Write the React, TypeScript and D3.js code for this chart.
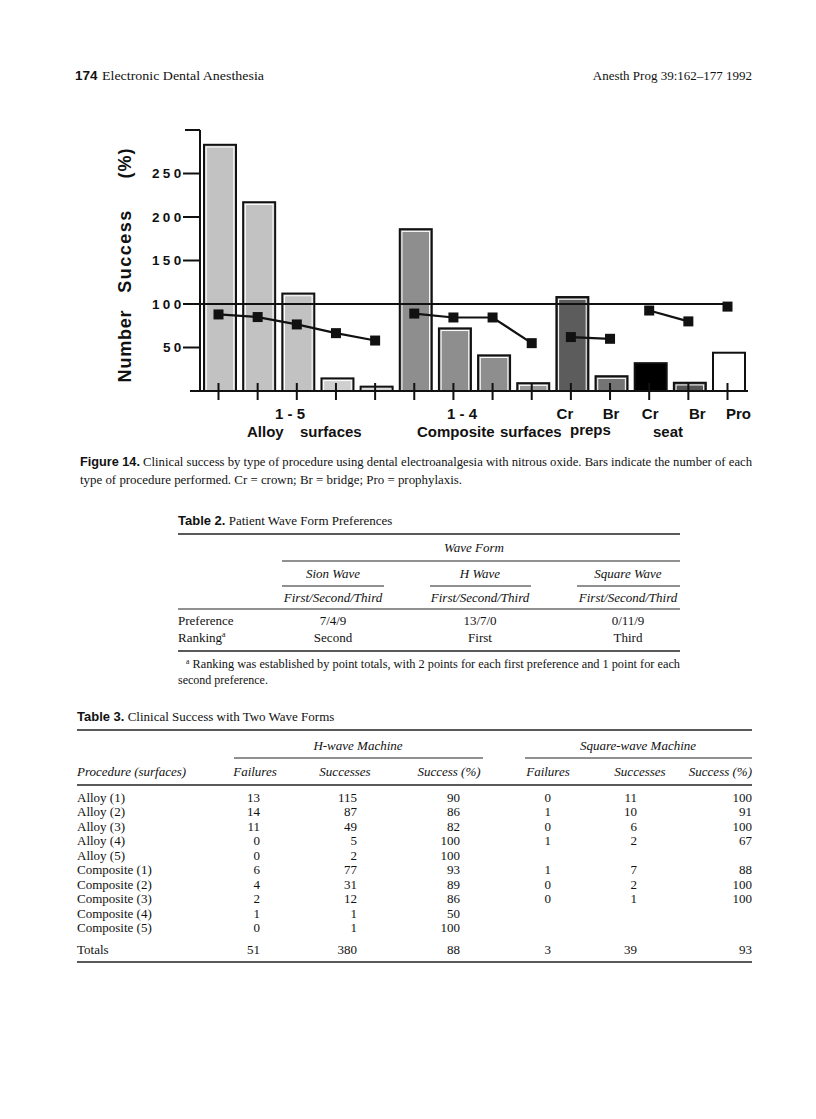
import React from 'react';
import * as d3 from 'd3';

// ---------- Chart data (Figure 14) ----------
const categories = [
  'Alloy 1', 'Alloy 2', 'Alloy 3', 'Alloy 4', 'Alloy 5',
  'Composite 1', 'Composite 2', 'Composite 3', 'Composite 4',
  'Cr preps', 'Br preps', 'Cr seat', 'Br seat', 'Pro',
];
const procedureCounts = [283, 217, 112, 14.5, 5, 186, 72, 41, 9, 108, 17, 32, 9.5, 44];
const successPercent = [88, 85, 76.5, 66.5, 58, 89, 84.5, 84.5, 55, 62, 60, 92.5, 80, 97];
const lineGroups = [[0, 1, 2, 3, 4], [5, 6, 7, 8], [9, 10], [11, 12], [13]];
const yTicks = [50, 100, 150, 200, 250];
const yAxisMax = 300;
const referenceLevel = 100;

// ---------- Table 2 data ----------
const waveForms = ['Sion Wave', 'H Wave', 'Square Wave'];
const preferenceCounts = ['7/4/9', '13/7/0', '0/11/9'];
const rankings = ['Second', 'First', 'Third'];

// ---------- Table 3 data ----------
const procedures = [
  'Alloy (1)', 'Alloy (2)', 'Alloy (3)', 'Alloy (4)', 'Alloy (5)',
  'Composite (1)', 'Composite (2)', 'Composite (3)', 'Composite (4)', 'Composite (5)',
];
const hFailures = [13, 14, 11, 0, 0, 6, 4, 2, 1, 0];
const hSuccesses = [115, 87, 49, 5, 2, 77, 31, 12, 1, 1];
const hSuccessPct = [90, 86, 82, 100, 100, 93, 89, 86, 50, 100];
const sqFailures = [0, 1, 0, 1, null, 1, 0, 0, null, null];
const sqSuccesses = [11, 10, 6, 2, null, 7, 2, 1, null, null];
const sqSuccessPct = [100, 91, 100, 67, null, 88, 100, 100, null, null];
const hTotals = [51, 380, 88];
const sqTotals = [3, 39, 93];

// styles
const barFills = [
  '#c2c2c2', '#c2c2c2', '#c2c2c2', '#cfcfcf', '#d8d8d8',
  '#8e8e8e', '#8e8e8e', '#8e8e8e', '#999999',
  '#5c5c5c', '#747474', '#000000', '#555555', '#ffffff',
];

const SANS = '"Liberation Sans", Arial, sans-serif';
const SERIF = '"Liberation Serif", "Times New Roman", serif';

export default function App() {
  const y = d3.scaleLinear().domain([0, yAxisMax]).range([391, 130]);
  const x = d3.scalePoint<string>().domain(categories).range([218.5, 727.5]);
  const barW = 32;
  const barShift = 1.5;
  const line = d3
    .line<number>()
    .x((i) => x(categories[i]) as number)
    .y((i) => y(successPercent[i]));

  // table 3 geometry
  const t3RowY = (i: number) => 801.5 + i * 14.5;
  const t3Cols = { hF: 260, hS: 357, hP: 460, sF: 551, sS: 637, sP: 752 };
  const t2Cols = [333, 480, 628];

  const fmt = (v: number | null) => (v === null ? '' : String(v));

  return (
    <svg
      width={816}
      height={1119}
      viewBox="0 0 816 1119"
      style={{ position: 'absolute', left: 0, top: 0, background: '#fff' }}
    >
      <rect x={0} y={0} width={816} height={1119} fill="#fff" />
      {/* Running header */}
      <g fontFamily={SERIF} fontSize={13} fill="#111">
        <text x={75} y={80} fontWeight="bold" fontFamily={SANS} fontSize={13.5}>174</text>
        <text x={102} y={80} textLength={162} lengthAdjust="spacingAndGlyphs">Electronic Dental Anesthesia</text>
        <text x={752} y={80} textAnchor="end">Anesth Prog 39:162–177 1992</text>
      </g>

      {/* ---------- Chart ---------- */}
      <g fontFamily={SANS} fontWeight="bold" fill="#111">
        {/* bars */}
        {categories.map((c, i) => {
          const cx = (x(c) as number) + barShift;
          const top = y(procedureCounts[i]);
          const h = y(0) - top;
          return (
            <g key={c}>
              <rect x={cx - barW / 2} y={top} width={barW} height={h} fill={barFills[i]} stroke="#111" strokeWidth={2} />
              {barFills[i] !== '#000000' && barFills[i] !== '#ffffff' && h > 6 && (
                <rect x={cx - barW / 2 + 2.2} y={top + 2.2} width={barW - 4.4} height={Math.max(0, h - 2.2)} fill="none" stroke="#fff" strokeWidth={1} />
              )}
            </g>
          );
        })}

        {/* y axis */}
        <line x1={200} y1={y(yAxisMax)} x2={200} y2={y(0) + 1} stroke="#111" strokeWidth={2} />
        <line x1={185} y1={y(yAxisMax)} x2={200} y2={y(yAxisMax)} stroke="#111" strokeWidth={2} />
        {yTicks.map((t) => (
          <g key={t}>
            <line x1={183} y1={y(t)} x2={200} y2={y(t)} stroke="#111" strokeWidth={2} />
            <text x={184.5} y={y(t) + 4.7} textAnchor="end" fontSize={13.5} letterSpacing={3.3}>{t}</text>
          </g>
        ))}

        {/* reference line at 100 % */}
        <line x1={200} y1={y(referenceLevel)} x2={x('Pro') as number} y2={y(referenceLevel)} stroke="#111" strokeWidth={2} />

        {/* x axis */}
        <line x1={190} y1={y(0)} x2={748} y2={y(0)} stroke="#111" strokeWidth={2.2} />
        {categories.map((c) => (
          <line key={c} x1={x(c) as number} y1={y(0) - 8} x2={x(c) as number} y2={y(0) + 9} stroke="#111" strokeWidth={2} />
        ))}

        {/* success lines */}
        {lineGroups.map((g, gi) => (
          <path key={gi} d={line(g) || ''} fill="none" stroke="#111" strokeWidth={2.2} />
        ))}
        {successPercent.map((v, i) => (
          <rect key={i} x={(x(categories[i]) as number) - 5} y={y(v) - 5} width={10} height={10} fill="#111" />
        ))}

        {/* y axis title */}
        <g fontSize={18}>
          <text transform={`translate(131,346) rotate(-90)`} textAnchor="middle" letterSpacing={0.8}>Number</text>
          <text transform={`translate(131,251) rotate(-90)`} textAnchor="middle" letterSpacing={1.5}>Success</text>
          <text transform={`translate(131,163) rotate(-90)`} textAnchor="middle" letterSpacing={1}>(%)</text>
        </g>

        {/* x labels */}
        <g fontSize={15}>
          <text x={290} y={419} textAnchor="middle">1 - 5</text>
          <text x={462} y={419} textAnchor="middle">1 - 4</text>
          <text x={x('Cr preps') as number - 6} y={419} textAnchor="middle">Cr</text>
          <text x={x('Br preps') as number + 1} y={419} textAnchor="middle">Br</text>
          <text x={x('Cr seat') as number + 1} y={419} textAnchor="middle">Cr</text>
          <text x={x('Br seat') as number + 9} y={419} textAnchor="middle">Br</text>
          <text x={x('Pro') as number + 11} y={419} textAnchor="middle">Pro</text>
          <text x={247} y={437}>Alloy</text>
          <text x={300} y={437}>surfaces</text>
          <text x={417} y={437}>Composite</text>
          <text x={500} y={437}>surfaces</text>
          <text x={570} y={435}>preps</text>
          <text x={653} y={437}>seat</text>
        </g>
      </g>

      {/* Caption */}
      <g fontFamily={SERIF} fontSize={12.5} fill="#111">
        <text x={80} y={466} textLength={672} lengthAdjust="spacingAndGlyphs">
          <tspan fontWeight="bold" fontFamily={SANS}>Figure 14.</tspan>
          <tspan>{'  Clinical success by type of procedure using dental electroanalgesia with nitrous oxide. Bars indicate the number of each'}</tspan>
        </text>
        <text x={80} y={484} textLength={382} lengthAdjust="spacingAndGlyphs">type of procedure performed. Cr = crown; Br = bridge; Pro = prophylaxis.</text>
      </g>

      {/* ---------- Table 2 ---------- */}
      <g fontFamily={SERIF} fontSize={13} fill="#111">
        <text x={178} y={525}>
          <tspan fontWeight="bold" fontFamily={SANS}>Table 2.</tspan>
          <tspan> Patient Wave Form Preferences</tspan>
        </text>
        <line x1={178} y1={534} x2={680} y2={534} stroke="#222" strokeWidth={1.6} />
        <text x={474} y={552} textAnchor="middle" fontStyle="italic">Wave Form</text>
        <line x1={282} y1={561} x2={680} y2={561} stroke="#222" strokeWidth={1.2} />
        {waveForms.map((w, i) => (
          <text key={w} x={t2Cols[i]} y={578} textAnchor="middle" fontStyle="italic">{w}</text>
        ))}
        {[[282, 384], [430, 531], [577, 680]].map(([a, b], i) => (
          <line key={i} x1={a} y1={586} x2={b} y2={586} stroke="#222" strokeWidth={1.2} />
        ))}
        {waveForms.map((w, i) => (
          <text key={w} x={t2Cols[i]} y={602} textAnchor="middle" fontStyle="italic">First/Second/Third</text>
        ))}
        <line x1={178} y1={609} x2={680} y2={609} stroke="#222" strokeWidth={1.2} />
        <text x={178} y={625}>Preference</text>
        <text x={178} y={642}>Ranking<tspan fontSize={8} dy={-5}>a</tspan></text>
        {preferenceCounts.map((p, i) => (
          <text key={i} x={t2Cols[i]} y={625} textAnchor="middle">{p}</text>
        ))}
        {rankings.map((r, i) => (
          <text key={i} x={t2Cols[i]} y={642} textAnchor="middle">{r}</text>
        ))}
        <line x1={178} y1={651} x2={680} y2={651} stroke="#222" strokeWidth={1.6} />
        <g fontSize={12}>
          <text x={186} y={668} textLength={494} lengthAdjust="spacingAndGlyphs">
            <tspan fontSize={7.5} dy={-4}>a</tspan>
            <tspan dy={4}> Ranking was established by point totals, with 2 points for each first preference and 1 point for each</tspan>
          </text>
          <text x={178} y={684}>second preference.</text>
        </g>
      </g>

      {/* ---------- Table 3 ---------- */}
      <g fontFamily={SERIF} fontSize={13} fill="#111">
        <text x={77} y={721}>
          <tspan fontWeight="bold" fontFamily={SANS}>Table 3.</tspan>
          <tspan> Clinical Success with Two Wave Forms</tspan>
        </text>
        <line x1={77} y1={730} x2={752} y2={730} stroke="#222" strokeWidth={1.6} />
        <text x={358} y={750} textAnchor="middle" fontStyle="italic">H-wave Machine</text>
        <text x={638} y={750} textAnchor="middle" fontStyle="italic">Square-wave Machine</text>
        <line x1={234} y1={758} x2={483} y2={758} stroke="#222" strokeWidth={1.2} />
        <line x1={525} y1={758} x2={752} y2={758} stroke="#222" strokeWidth={1.2} />
        <g fontStyle="italic">
          <text x={77} y={776}>Procedure (surfaces)</text>
          <text x={255} y={776} textAnchor="middle">Failures</text>
          <text x={345} y={776} textAnchor="middle">Successes</text>
          <text x={449} y={776} textAnchor="middle">Success (%)</text>
          <text x={548} y={776} textAnchor="middle">Failures</text>
          <text x={640} y={776} textAnchor="middle">Successes</text>
          <text x={752} y={776} textAnchor="end">Success (%)</text>
        </g>
        <line x1={77} y1={785} x2={752} y2={785} stroke="#222" strokeWidth={1.4} />
        {procedures.map((p, i) => (
          <g key={p}>
            <text x={77} y={t3RowY(i)}>{p}</text>
            <text x={t3Cols.hF} y={t3RowY(i)} textAnchor="end">{fmt(hFailures[i])}</text>
            <text x={t3Cols.hS} y={t3RowY(i)} textAnchor="end">{fmt(hSuccesses[i])}</text>
            <text x={t3Cols.hP} y={t3RowY(i)} textAnchor="end">{fmt(hSuccessPct[i])}</text>
            <text x={t3Cols.sF} y={t3RowY(i)} textAnchor="end">{fmt(sqFailures[i])}</text>
            <text x={t3Cols.sS} y={t3RowY(i)} textAnchor="end">{fmt(sqSuccesses[i])}</text>
            <text x={t3Cols.sP} y={t3RowY(i)} textAnchor="end">{fmt(sqSuccessPct[i])}</text>
          </g>
        ))}
        <text x={77} y={953.5}>Totals</text>
        {[t3Cols.hF, t3Cols.hS, t3Cols.hP].map((cx, i) => (
          <text key={'h' + i} x={cx} y={953.5} textAnchor="end">{hTotals[i]}</text>
        ))}
        {[t3Cols.sF, t3Cols.sS, t3Cols.sP].map((cx, i) => (
          <text key={'s' + i} x={cx} y={953.5} textAnchor="end">{sqTotals[i]}</text>
        ))}
        <line x1={77} y1={962} x2={752} y2={962} stroke="#222" strokeWidth={1.6} />
      </g>
    </svg>
  );
}
